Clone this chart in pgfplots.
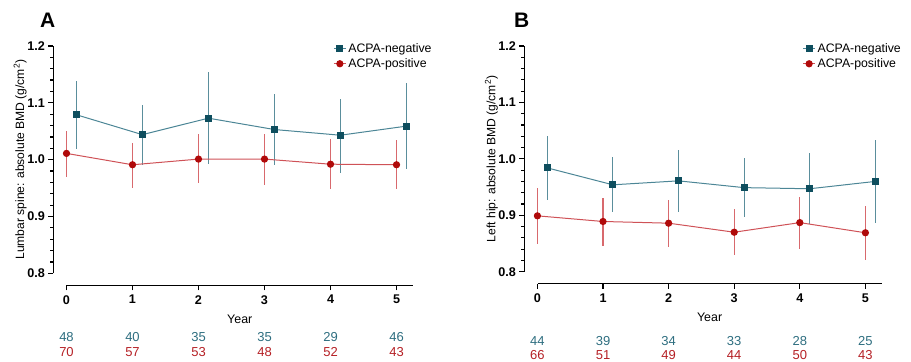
\documentclass[border=0pt]{standalone}
\usepackage{pgfplots}
\pgfplotsset{compat=1.18}
\usepackage{fontspec}
\setmainfont{Liberation Sans}
\definecolor{negmark}{HTML}{0E4E5E}
\definecolor{negline}{HTML}{4C8696}
\definecolor{negerr}{HTML}{5A8E9C}
\definecolor{posmark}{HTML}{B00A0A}
\definecolor{posline}{HTML}{CF5257}
\definecolor{poserr}{HTML}{D8696D}
\definecolor{negtext}{HTML}{2E6E80}
\definecolor{postext}{HTML}{B52025}
\pgfplotsset{
 bmd/.style={
  scale only axis, width=359.7bp, height=227.3bp,
  xmin=-0.2, xmax=5.25, ymin=0.8, ymax=1.2,
  axis x line*=bottom, axis y line*=left,
  axis x line shift=12bp,
  x axis line style={shorten <=13.2bp},
  axis line style={line width=1.4bp, black},
  xtick={0,1,2,3,4,5}, ytick={0.8,0.9,1.0,1.1,1.2}, minor y tick num=4,
  tick align=outside, major tick length=5bp, minor tick length=3bp,
  every tick/.style={black, line width=1.2bp},
  tick label style={font=\fontsize{12.6bp}{14bp}\selectfont\bfseries},
  x tick label style={yshift=-1.5bp},
  /pgf/number format/assume math mode=true,
  y tick label style={/pgf/number format/.cd, fixed, fixed zerofill, precision=1, /tikz/.cd},
  clip=false,
  legend style={draw=none, fill=none, font=\fontsize{12.3bp}{13bp}\selectfont, anchor=north west, at={(0.778,1.02)}, inner sep=0pt, row sep=0.5bp, cells={anchor=west}},
  legend cell align=left,
  legend image code/.code={\draw[mark repeat=2,mark phase=2,##1] plot coordinates {(0bp,0bp) (6bp,0bp) (12bp,0bp)};},
  xlabel style={at={(axis cs:2.625,0.8)}, anchor=center, yshift=-45.5bp, font=\fontsize{12.4bp}{14bp}\selectfont},
  ylabel style={at={(axis description cs:-0.092,0.5)}, anchor=center, rotate=0, font=\fontsize{12.1bp}{14bp}\selectfont},
  negstyle/.style={negline, line width=1bp, mark=square*, mark size=3bp, mark options={negmark, fill=negmark},
    error bars/.cd, y dir=both, y explicit, error mark=none, error bar style={negerr, line width=1.1bp}},
  posstyle/.style={posline, line width=1bp, mark=*, mark size=3.1bp, mark options={posmark, fill=posmark},
    error bars/.cd, y dir=both, y explicit, error mark=none, error bar style={poserr, line width=1.1bp}},
 }
}
\begin{document}
\begin{tikzpicture}
\begin{axis}[bmd, at={(53.3bp,-273.3bp)}, anchor=south west,
  xlabel={Year}, ylabel={Lumbar spine: absolute BMD (g/cm\textsuperscript{2})}]
\addplot[negstyle] table[x=x, y=y, y error plus=ep, y error minus=em] {
x y ep em
0.15 1.079 0.059 0.061
1.15 1.044 0.053 0.053
2.15 1.073 0.082 0.081
3.15 1.053 0.062 0.062
4.15 1.043 0.064 0.066
5.15 1.059 0.076 0.076
};
\addlegendentry{ACPA-negative}
\addplot[posstyle] table[x=x, y=y, y error plus=ep, y error minus=em] {
x y ep em
0 1.011 0.039 0.041
1 0.991 0.039 0.041
2 1.001 0.044 0.042
3 1.001 0.045 0.046
4 0.992 0.045 0.044
5 0.991 0.044 0.043
};
\addlegendentry{ACPA-positive}
\begin{scope}[every node/.style={font=\fontsize{13bp}{14bp}\selectfont}]
\node[text=negtext] at ([yshift=-63.7bp]axis cs:0,0.8) {48};
\node[text=negtext] at ([yshift=-63.7bp]axis cs:1,0.8) {40};
\node[text=negtext] at ([yshift=-63.7bp]axis cs:2,0.8) {35};
\node[text=negtext] at ([yshift=-63.7bp]axis cs:3,0.8) {35};
\node[text=negtext] at ([yshift=-63.7bp]axis cs:4,0.8) {29};
\node[text=negtext] at ([yshift=-63.7bp]axis cs:5,0.8) {46};
\node[text=postext] at ([yshift=-78.7bp]axis cs:0,0.8) {70};
\node[text=postext] at ([yshift=-78.7bp]axis cs:1,0.8) {57};
\node[text=postext] at ([yshift=-78.7bp]axis cs:2,0.8) {53};
\node[text=postext] at ([yshift=-78.7bp]axis cs:3,0.8) {48};
\node[text=postext] at ([yshift=-78.7bp]axis cs:4,0.8) {52};
\node[text=postext] at ([yshift=-78.7bp]axis cs:5,0.8) {43};
\end{scope}
\end{axis}
\begin{axis}[bmd, at={(524.3bp,-271.7bp)}, anchor=south west, height=225.7bp, width=357.5bp,
  xlabel={Year}, ylabel={Left hip: absolute BMD (g/cm\textsuperscript{2})}]
\addplot[negstyle] table[x=x, y=y, y error plus=ep, y error minus=em] {
x y ep em
0.15 0.984 0.057 0.057
1.15 0.954 0.050 0.049
2.15 0.961 0.054 0.055
3.15 0.949 0.052 0.052
4.15 0.947 0.063 0.063
5.15 0.960 0.073 0.074
};
\addlegendentry{ACPA-negative}
\addplot[posstyle] table[x=x, y=y, y error plus=ep, y error minus=em] {
x y ep em
0 0.899 0.049 0.050
1 0.889 0.042 0.044
2 0.886 0.041 0.042
3 0.870 0.041 0.040
4 0.887 0.045 0.046
5 0.869 0.048 0.049
};
\addlegendentry{ACPA-positive}
\begin{scope}[every node/.style={font=\fontsize{13bp}{14bp}\selectfont}]
\node[text=negtext] at ([yshift=-69.3bp]axis cs:0,0.8) {44};
\node[text=negtext] at ([yshift=-69.3bp]axis cs:1,0.8) {39};
\node[text=negtext] at ([yshift=-69.3bp]axis cs:2,0.8) {34};
\node[text=negtext] at ([yshift=-69.3bp]axis cs:3,0.8) {33};
\node[text=negtext] at ([yshift=-69.3bp]axis cs:4,0.8) {28};
\node[text=negtext] at ([yshift=-69.3bp]axis cs:5,0.8) {25};
\node[text=postext] at ([yshift=-83.3bp]axis cs:0,0.8) {66};
\node[text=postext] at ([yshift=-83.3bp]axis cs:1,0.8) {51};
\node[text=postext] at ([yshift=-83.3bp]axis cs:2,0.8) {49};
\node[text=postext] at ([yshift=-83.3bp]axis cs:3,0.8) {44};
\node[text=postext] at ([yshift=-83.3bp]axis cs:4,0.8) {50};
\node[text=postext] at ([yshift=-83.3bp]axis cs:5,0.8) {43};
\end{scope}
\end{axis}
\node[font=\fontsize{21bp}{22bp}\selectfont\bfseries] at (47.7bp,-20.5bp) {A};
\node[font=\fontsize{21bp}{22bp}\selectfont\bfseries] at (521.7bp,-20.5bp) {B};
\pgfresetboundingbox
\useasboundingbox (0bp,0bp) rectangle (911bp,-362bp);
\end{tikzpicture}
\end{document}
